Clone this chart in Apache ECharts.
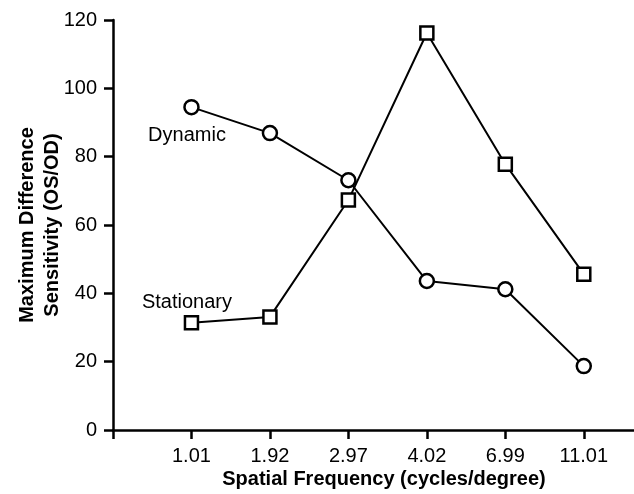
<!DOCTYPE html>
<html>
<head>
<meta charset="utf-8">
<script src="https://cdn.jsdelivr.net/npm/echarts@6/dist/echarts.min.js"></script>
<style>
  html, body { margin: 0; padding: 0; background: #fff; }
  #chart { width: 634px; height: 494px; }
</style>
</head>
<body>
<div id="chart"></div>
<script>
// Spatial frequency categories (cycles/degree)
const frequencies = ['1.01', '1.92', '2.97', '4.02', '6.99', '11.01'];
// Maximum difference sensitivity (OS/OD)
const dynamicValues = [94.5, 86.9, 73.1, 43.6, 41.2, 18.7];
const stationaryValues = [31.4, 33.1, 67.3, 116.2, 77.8, 45.6];
const yTicks = [0, 20, 40, 60, 80, 100, 120];

const FONT = '"Liberation Sans", Arial, Helvetica, sans-serif';

// category i sits at position i + 1 on the x scale; position 0 is the axis origin
const toPoints = vals => vals.map((v, i) => [i + 1, v]);
const tickPositions = [0].concat(frequencies.map((_, i) => i + 1));
const labelPositions = frequencies.map((_, i) => i + 1);

const chart = echarts.init(document.getElementById('chart'), null, { renderer: 'canvas' });

const markerStyle = {
  color: '#fff',
  borderColor: '#000',
  borderWidth: 2.5
};

chart.setOption({
  animation: false,
  backgroundColor: '#fff',
  grid: {
    left: 113, right: 0, top: 20, bottom: 64,
    containLabel: false,
    outerBoundsMode: 'none'
  },
  xAxis: {
    type: 'value',
    min: 0,
    max: 6.64,
    interval: 1,
    name: 'Spatial Frequency (cycles/degree)',
    nameLocation: 'middle',
    nameGap: 39,
    nameMoveOverlap: false,
    nameTextStyle: {
      fontFamily: FONT, fontSize: 20, fontWeight: 'bold', color: '#000',
      padding: [0, 0, 0, 21]
    },
    axisLine: { onZero: false, lineStyle: { color: '#000', width: 2.5 } },
    axisTick: { customValues: tickPositions, length: 9, lineStyle: { color: '#000', width: 2.5 } },
    axisLabel: {
      customValues: labelPositions,
      formatter: v => frequencies[Math.round(v) - 1] || '',
      fontFamily: FONT, fontSize: 20, color: '#000', margin: 16
    },
    splitLine: { show: false }
  },
  yAxis: {
    type: 'value',
    min: yTicks[0],
    max: yTicks[yTicks.length - 1],
    interval: yTicks[1] - yTicks[0],
    name: 'Maximum Difference\nSensitivity (OS/OD)',
    nameLocation: 'middle',
    nameGap: 48.5,
    nameMoveOverlap: false,
    nameTextStyle: {
      fontFamily: FONT, fontSize: 20, fontWeight: 'bold', color: '#000', lineHeight: 25
    },
    axisLine: { show: true, lineStyle: { color: '#000', width: 2.5 } },
    axisTick: { show: true, length: 9, lineStyle: { color: '#000', width: 2.5 } },
    axisLabel: { fontFamily: FONT, fontSize: 20, color: '#000', margin: 16 },
    splitLine: { show: false }
  },
  graphic: [
    {
      type: 'text', x: 187, y: 135,
      style: { text: 'Dynamic', font: '20px ' + FONT, fill: '#000', align: 'center', verticalAlign: 'middle' }
    },
    {
      type: 'text', x: 187, y: 302,
      style: { text: 'Stationary', font: '20px ' + FONT, fill: '#000', align: 'center', verticalAlign: 'middle' }
    }
  ],
  series: [
    {
      name: 'Dynamic',
      type: 'line',
      data: toPoints(dynamicValues),
      symbol: 'circle',
      symbolSize: 14,
      lineStyle: { color: '#000', width: 2 },
      itemStyle: markerStyle,
      z: 3
    },
    {
      name: 'Stationary',
      type: 'line',
      data: toPoints(stationaryValues),
      symbol: 'rect',
      symbolSize: 13,
      lineStyle: { color: '#000', width: 2 },
      itemStyle: markerStyle,
      z: 4
    }
  ]
});
</script>
</body>
</html>
